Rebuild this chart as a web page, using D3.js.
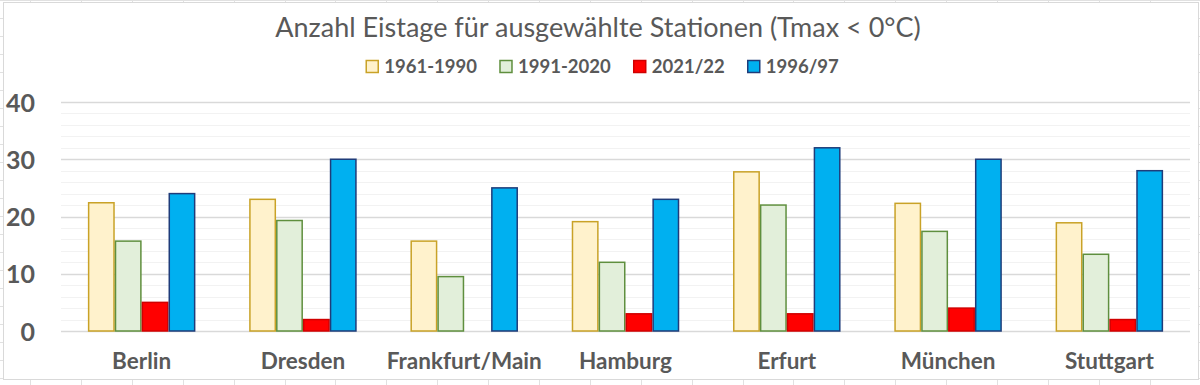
<!DOCTYPE html>
<html>
<head>
<meta charset="utf-8">
<script src="https://cdn.jsdelivr.net/npm/d3@7"></script>
<style>
	body { margin: 0; background: #ffffff; }
	svg { display: block; }
</style>
</head>
<body>
<svg class="chart"></svg>
<script>
// stations and series values (Anzahl Eistage)
var stations = ["Berlin", "Dresden", "Frankfurt/Main", "Hamburg", "Erfurt", "München", "Stuttgart"];
var seriesNames = ["1961-1990", "1991-2020", "2021/22", "1996/97"];
var v1961_1990 = [22.4, 23.0, 15.7, 19.1, 27.8, 22.3, 18.9];
var v1991_2020 = [15.7, 19.3, 9.5, 12.0, 22.0, 17.4, 13.4];
var v2021_22 = [5, 2, 0, 3, 3, 4, 2];
var v1996_97 = [24, 30, 25, 23, 32, 30, 28];
var yTicks = [0, 10, 20, 30, 40];

var fills = ["#fff2cc", "#e2efda", "#ff0000", "#00b0f0"];
var strokes = ["#c9a227", "#5f8f3e", "#d00000", "#1f3c7a"];

var W = 1200, H = 385;
var textColor = "#595959";
var font = "Lato, 'Open Sans', sans-serif";

var margin = {top: 102, right: 10, bottom: 54, left: 61};

var chart = d3.select('.chart')
	.attr('width', W)
	.attr('height', H)
	.style('font-family', font);

// spreadsheet grid behind the chart area
var sheet = chart.append('g').attr('class', 'sheet');
for (var gx = 30; gx < W; gx += 50.9) {
	sheet.append('line')
		.attr('x1', Math.round(gx) + 0.5).attr('x2', Math.round(gx) + 0.5)
		.attr('y1', 0).attr('y2', H)
		.attr('stroke', '#e1e1e1');
}
for (var gy = 0; gy < H; gy += 18) {
	sheet.append('line')
		.attr('x1', 0).attr('x2', W)
		.attr('y1', Math.round(gy) + 0.5).attr('y2', Math.round(gy) + 0.5)
		.attr('stroke', '#e1e1e1');
}

chart.append('rect')
	.attr('x', 3.5)
	.attr('y', 2.5)
	.attr('width', 1195)
	.attr('height', 377)
	.attr('fill', '#ffffff')
	.attr('stroke', '#d9d9d9');

var x0 = d3.scaleBand()
	.domain(stations)
	.range([margin.left, W - margin.right])
	.paddingInner(1 / 3)
	.paddingOuter(1 / 6);

var x1 = d3.scaleBand()
	.domain(d3.range(seriesNames.length))
	.range([0, x0.bandwidth()]);

var y = d3.scaleLinear()
	.domain([0, 40])
	.range([H - margin.bottom, margin.top]);

// minor gridlines every 2
var minor = d3.range(2, 40, 2).filter(function(v){ return v % 10 !== 0; });
chart.append('g').selectAll('line')
	.data(minor)
	.enter()
	.append('line')
	.attr('x1', margin.left)
	.attr('x2', W - margin.right)
	.attr('y1', function(d){ return Math.round(y(d)) + 0.5; })
	.attr('y2', function(d){ return Math.round(y(d)) + 0.5; })
	.attr('stroke', '#f2f2f2')
	.attr('stroke-width', 1);

// major gridlines
chart.append('g').selectAll('line')
	.data(yTicks)
	.enter()
	.append('line')
	.attr('x1', margin.left)
	.attr('x2', W - margin.right)
	.attr('y1', function(d){ return Math.round(y(d)) + 0.5; })
	.attr('y2', function(d){ return Math.round(y(d)) + 0.5; })
	.attr('stroke', '#d9d9d9')
	.attr('stroke-width', 1.3);

// y axis labels
var yAxis = d3.axisLeft(y).tickValues(yTicks).tickSize(0).tickPadding(0);
var yg = chart.append('g')
	.attr('class', 'y axis')
	.attr('transform', 'translate(35,0)')
	.call(yAxis);
yg.select('.domain').remove();
yg.selectAll('text')
	.attr('fill', textColor)
	.attr('font-family', font)
	.attr('font-weight', 'bold')
	.attr('font-size', '25px')
	.attr('dy', '0.36em');

// bars
var seriesData = [v1961_1990, v1991_2020, v2021_22, v1996_97];
var rows = [];
stations.forEach(function(s, i){
	seriesData.forEach(function(vals, j){
		rows.push({station: s, series: j, value: vals[i]});
	});
});

chart.append('g').selectAll('rect')
	.data(rows.filter(function(d){ return d.value > 0; }))
	.enter()
	.append('rect')
	.attr('x', function(d){ return x0(d.station) + x1(d.series) + 0.75; })
	.attr('width', x1.bandwidth() - 1.5)
	.attr('y', function(d){ return y(d.value); })
	.attr('height', function(d){ return y(0) - y(d.value); })
	.attr('fill', function(d){ return fills[d.series]; })
	.attr('stroke', function(d){ return strokes[d.series]; })
	.attr('stroke-width', 1.5);

// x axis labels
var xAxis = d3.axisBottom(x0).tickSize(0).tickPadding(0);
var xg = chart.append('g')
	.attr('class', 'x axis')
	.attr('transform', 'translate(0,' + (H - margin.bottom) + ')')
	.call(xAxis);
xg.select('.domain').remove();
xg.selectAll('text')
	.attr('fill', textColor)
	.attr('font-family', font)
	.attr('font-weight', 'bold')
	.attr('font-size', '22.5px')
	.attr('dy', 0)
	.attr('y', 38);

// title
chart.append('text')
	.attr('x', 598)
	.attr('y', 37)
	.attr('text-anchor', 'middle')
	.attr('fill', textColor)
	.attr('font-size', '27px')
	.text('Anzahl Eistage für ausgewählte Stationen (Tmax < 0°C)');

// legend
var legend = chart.append('g').attr('class', 'legend');
var items = legend.selectAll('g')
	.data(seriesNames)
	.enter()
	.append('g');
items.append('rect')
	.attr('width', 12)
	.attr('height', 12)
	.attr('y', 60.5)
	.attr('fill', function(d, i){ return fills[i]; })
	.attr('stroke', function(d, i){ return strokes[i]; })
	.attr('stroke-width', 1.5);
items.append('text')
	.attr('x', 18)
	.attr('y', 72.5)
	.attr('fill', textColor)
	.attr('font-weight', 'bold')
	.attr('font-size', '18.5px')
	.text(function(d){ return d; });

var offs = [], cur = 0;
items.each(function(d, i){
	offs.push(cur);
	cur += 18 + d3.select(this).select('text').node().getComputedTextLength() + 23;
});
var total = cur - 23;
var startX = 602.5 - total / 2;
items.attr('transform', function(d, i){ return 'translate(' + (startX + offs[i]) + ',0)'; });
</script>
</body>
</html>
